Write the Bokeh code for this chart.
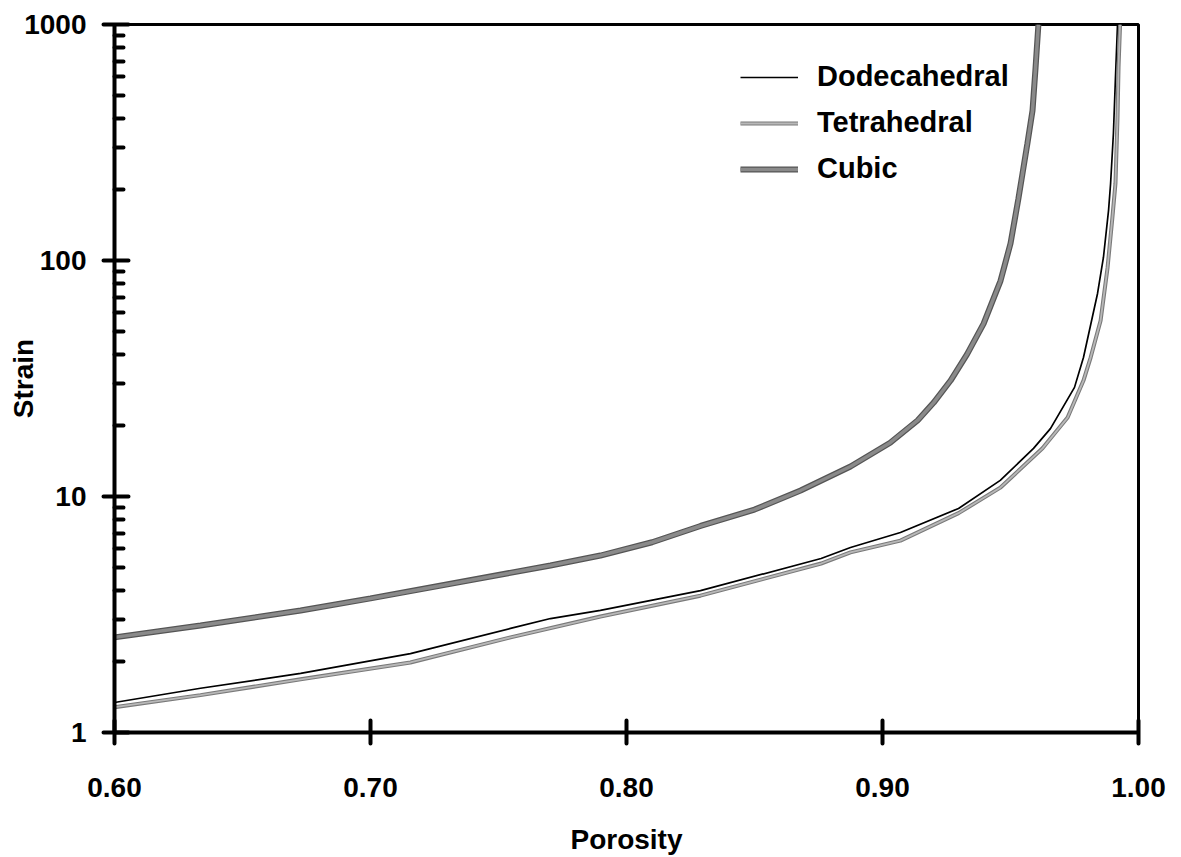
from bokeh.plotting import figure
from bokeh.models import FixedTicker, Legend, LegendItem
from bokeh.embed import file_html
from bokeh.resources import INLINE

# ---- data ----
dodeca_x = [0.600, 0.6336, 0.6727, 0.7156, 0.7547, 0.7703, 0.7898, 0.8289, 0.8760, 0.8875, 0.9070,
            0.9297, 0.9460, 0.9590, 0.9656, 0.9750, 0.9785, 0.9840, 0.9863, 0.9883, 0.9891, 0.9902,
            0.9910, 0.9918]
dodeca_y = [1.34, 1.54, 1.78, 2.16, 2.76, 3.04, 3.29, 3.99, 5.46, 6.08, 7.04,
            8.9, 11.7, 16.0, 19.4, 29.0, 38.8, 72.5, 103, 163, 212, 345,
            596, 1000]

tetra_x = [0.600, 0.6336, 0.6727, 0.7156, 0.7547, 0.7898, 0.8289, 0.8760, 0.8875, 0.9070,
           0.9297, 0.9460, 0.9625, 0.9656, 0.9723, 0.9785, 0.9813, 0.9852, 0.9879, 0.9898,
           0.9910, 0.9918, 0.9922, 0.9928]
tetra_y = [1.28, 1.44, 1.68, 1.98, 2.53, 3.10, 3.80, 5.2, 5.8, 6.5,
           8.5, 10.9, 16.0, 17.6, 21.6, 31.0, 38.8, 55.7, 93, 152,
           212, 404, 658, 1000]

cubic_x = [0.600, 0.6336, 0.6727, 0.7000, 0.7703, 0.7898, 0.8100, 0.8289, 0.8500, 0.8680, 0.8875,
           0.9030, 0.9137, 0.9200, 0.9266, 0.9330, 0.9395, 0.9461, 0.9500, 0.9531, 0.9547,
           0.9566, 0.9586, 0.9598, 0.9609]
cubic_y = [2.53, 2.84, 3.29, 3.70, 5.1, 5.62, 6.4, 7.5, 8.8, 10.6, 13.4,
           16.9, 21.0, 25.0, 31.0, 40.0, 54.0, 82.0, 118, 183, 234,
           313, 432, 658, 1000]

x_ticks = [0.6, 0.7, 0.8, 0.9, 1.0]
x_labels = ["0.60", "0.70", "0.80", "0.90", "1.00"]
y_ticks = [1, 10, 100, 1000]
y_labels = ["1", "10", "100", "1000"]
y_minor = [m * d for d in (1, 10, 100) for m in range(2, 10)]

FONT = "Liberation Sans"
FS = "28px"

p = figure(width=1181, height=857, x_range=(0.6, 1.0), y_range=(1, 1000), y_axis_type="log",
           output_backend="svg", toolbar_location=None,
           min_border_left=114, min_border_right=43, min_border_top=24, min_border_bottom=125)
p.grid.visible = False
p.outline_line_color = "black"
p.outline_line_width = 3
p.background_fill_color = "white"
p.border_fill_color = "white"

# lines
r_d = p.line(dodeca_x, dodeca_y, line_color="black", line_width=1.7)
r_t1 = p.line(tetra_x, tetra_y, line_color="#7a7a7a", line_width=4)
r_t2 = p.line(tetra_x, tetra_y, line_color="#b8b8b8", line_width=1.8)
r_c1 = p.line(cubic_x, cubic_y, line_color="#555555", line_width=6)
r_c2 = p.line(cubic_x, cubic_y, line_color="#8a8a8a", line_width=3.5)

# axes
xa = p.xaxis[0]
xa.ticker = FixedTicker(ticks=x_ticks)
xa.major_label_overrides = {t: l for t, l in zip(x_ticks, x_labels)}
ya = p.yaxis[0]
ya.ticker = FixedTicker(ticks=y_ticks, minor_ticks=y_minor)
ya.major_label_overrides = {t: l for t, l in zip(y_ticks, y_labels)}

for ax in (xa, ya):
    ax.axis_line_width = 4
    ax.axis_line_color = "black"
    ax.major_tick_line_width = 4
    ax.major_tick_line_color = "black"
    ax.major_tick_line_cap = "round"
    ax.minor_tick_line_width = 4
    ax.minor_tick_line_cap = "round"
    ax.major_label_text_font = FONT
    ax.major_label_text_font_style = "bold"
    ax.major_label_text_font_size = FS
    ax.major_label_text_color = "black"
    ax.axis_label_text_font = FONT
    ax.axis_label_text_font_style = "bold"
    ax.axis_label_text_font_size = FS
    ax.axis_label_text_color = "black"

xa.major_tick_in = 12
xa.major_tick_out = 11
xa.minor_tick_in = 0
xa.minor_tick_out = 0
xa.major_label_standoff = 34
xa.axis_label = "Porosity"
xa.axis_label_standoff = 24

ya.major_tick_in = 14
ya.major_tick_out = 11
ya.minor_tick_in = 9
ya.minor_tick_out = 0
ya.major_label_standoff = 17
ya.axis_label = "Strain"
ya.axis_label_standoff = -18

legend = Legend(items=[LegendItem(label="Dodecahedral", renderers=[r_d]),
                       LegendItem(label="Tetrahedral", renderers=[r_t1, r_t2]),
                       LegendItem(label="Cubic", renderers=[r_c1, r_c2])],
                location=(626, 547), padding=0, margin=0, spacing=13,
                glyph_width=58, glyph_height=20, label_standoff=19,
                label_text_font=FONT, label_text_font_style="bold", label_text_font_size="29px",
                label_text_color="black",
                border_line_color=None, background_fill_alpha=0)
p.add_layout(legend, "center")

open("out.html", "w").write(file_html(p, INLINE))
